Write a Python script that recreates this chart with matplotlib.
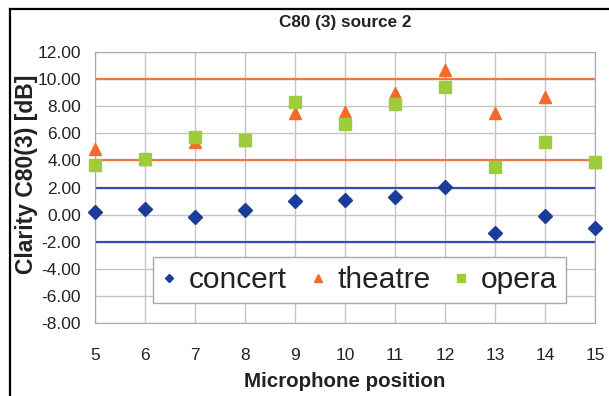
import matplotlib.pyplot as plt
from matplotlib.lines import Line2D

# Data
positions = [5, 6, 7, 8, 9, 10, 11, 12, 13, 14, 15]
concert = [0.2, 0.4, -0.2, 0.3, 1.0, 1.1, 1.3, 2.05, -1.35, -0.1, -1.0]
theatre = [4.85, 4.1, 5.35, 5.5, 7.5, 7.6, 9.0, 10.7, 7.5, 8.7, 3.9]
opera = [3.7, 4.1, 5.7, 5.5, 8.3, 6.7, 8.15, 9.4, 3.5, 5.35, 3.9]

theatre_limits = [4.0, 10.0]
concert_limits = [-2.0, 2.0]

y_ticks = [-8, -6, -4, -2, 0, 2, 4, 6, 8, 10, 12]

# Colors
C_CONCERT = "#1b3c98"
C_THEATRE = "#f46a2a"
C_OPERA = "#9fcc3b"
C_LINE_OR = "#ec7840"
C_LINE_BL = "#2f4fae"
C_TEXT = "#222222"

plt.rcParams['font.family'] = ['Liberation Sans', 'DejaVu Sans']

fig = plt.figure(figsize=(6.09, 3.96), dpi=100)
ax = fig.add_axes([0.156, 0.185, 0.821, 0.683])

for v in theatre_limits:
    ax.axhline(v, color=C_LINE_OR, lw=1.6, zorder=2)
for v in concert_limits:
    ax.axhline(v, color=C_LINE_BL, lw=1.6, zorder=2)

ax.plot(positions, concert, linestyle='none', marker='D', ms=7.2,
        color=C_CONCERT, label="concert", zorder=3, clip_on=False)
ax.plot(positions, theatre, linestyle='none', marker='^', ms=9,
        color=C_THEATRE, label="theatre", zorder=3, clip_on=False)
ax.plot(positions, opera, linestyle='none', marker='s', ms=8.5,
        color=C_OPERA, label="opera", zorder=4, clip_on=False)

ax.set_xlim(5, 15)
ax.set_ylim(-8, 12)
ax.set_xticks(positions)
ax.set_yticks(y_ticks)
ax.set_yticklabels(["%.2f" % v for v in y_ticks])
ax.tick_params(axis='both', length=0, colors=C_TEXT, labelsize=12.5)
ax.tick_params(axis='y', pad=10)
ax.tick_params(axis='x', pad=18)

ax.grid(True, color='#c4c4c4', lw=1)
ax.set_axisbelow(True)
for s in ax.spines.values():
    s.set_color('#a8a8a8')

ax.set_title("C80 (3) source 2", fontsize=12.3, fontweight='bold', pad=18, color=C_TEXT)
ax.set_xlabel("Microphone position", fontsize=14.8, fontweight='bold', labelpad=7, color=C_TEXT)
ax.set_ylabel("Clarity C80(3) [dB]", fontsize=16.5, fontweight='bold', color=C_TEXT)
ax.yaxis.set_label_coords(-0.114, 0.55)

leg = ax.legend(loc='lower left', bbox_to_anchor=(0.116, 0.073, 0.826, 0.196),
                mode='expand', ncol=3, fontsize=21.5, markerscale=0.6,
                handlelength=0.5, handletextpad=0.4, columnspacing=1.0,
                borderpad=0.3, borderaxespad=0,
                fancybox=False, framealpha=1, edgecolor='#a8a8a8')
leg.get_frame().set_linewidth(1)
for t in leg.get_texts():
    t.set_color(C_TEXT)

# outer frame (left and top edges only are visible in the crop)
fig.add_artist(Line2D([10 / 609, 10 / 609], [0, 1 - 9 / 396], transform=fig.transFigure,
                      color='black', lw=1.6))
fig.add_artist(Line2D([10 / 609, 1], [1 - 9 / 396, 1 - 9 / 396], transform=fig.transFigure,
                      color='black', lw=1.6))

fig.savefig("out.png", dpi=100)
